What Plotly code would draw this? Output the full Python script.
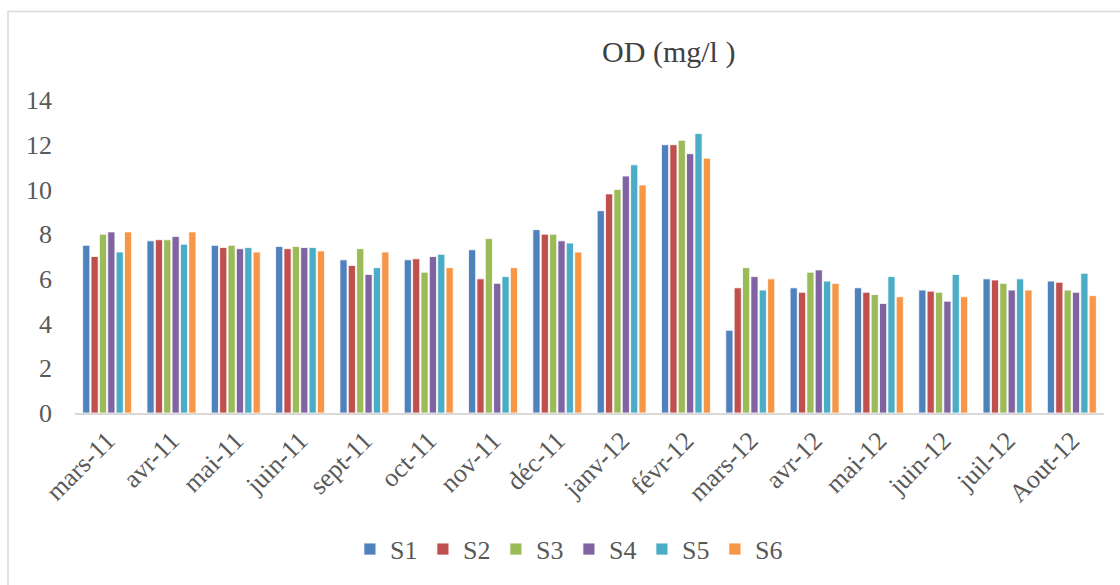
import plotly.graph_objects as go

# Monthly sampling campaigns
months = ["mars-11", "avr-11", "mai-11", "juin-11", "sept-11", "oct-11", "nov-11",
          "déc-11", "janv-12", "févr-12", "mars-12", "avr-12", "mai-12", "juin-12",
          "juil-12", "Aout-12"]

# Dissolved oxygen (mg/l) per station
s1 = [7.5, 7.7, 7.5, 7.45, 6.85, 6.85, 7.3, 8.2, 9.05, 12.0, 3.7, 5.6, 5.6, 5.5, 6.0, 5.9]
s2 = [7.0, 7.75, 7.4, 7.35, 6.6, 6.9, 6.0, 8.0, 9.8, 12.0, 5.6, 5.4, 5.4, 5.45, 5.95, 5.85]
s3 = [8.0, 7.75, 7.5, 7.45, 7.35, 6.3, 7.8, 8.0, 10.0, 12.2, 6.5, 6.3, 5.3, 5.4, 5.8, 5.5]
s4 = [8.1, 7.9, 7.35, 7.4, 6.2, 7.0, 5.8, 7.7, 10.6, 11.6, 6.1, 6.4, 4.9, 5.0, 5.5, 5.4]
s5 = [7.2, 7.55, 7.4, 7.4, 6.5, 7.1, 6.1, 7.6, 11.1, 12.5, 5.5, 5.9, 6.1, 6.2, 6.0, 6.25]
s6 = [8.1, 8.1, 7.2, 7.25, 7.2, 6.5, 6.5, 7.2, 10.2, 11.4, 6.0, 5.8, 5.2, 5.2, 5.5, 5.25]

series = [("S1", s1, "#4F81BD"), ("S2", s2, "#C0504D"), ("S3", s3, "#9BBB59"),
          ("S4", s4, "#8064A2"), ("S5", s5, "#4BACC6"), ("S6", s6, "#F79646")]

FONT = "Liberation Serif, Times New Roman, serif"
GREY = "#595959"

fig = go.Figure()
for name, vals, color in series:
    fig.add_trace(go.Bar(
        x=months, y=vals, name=name,
        marker=dict(color=color, line=dict(color="rgba(255,255,255,0.8)", width=1)),
    ))

fig.update_layout(
    width=1120, height=585,
    margin=dict(l=75, r=16, t=100, b=170),
    paper_bgcolor="white", plot_bgcolor="white",
    barmode="group", bargap=0.22, bargroupgap=0.14,
    font=dict(family=FONT, color=GREY),
    title=dict(text="OD (mg/l )", font=dict(family=FONT, size=30, color="#404040"),
               xref="paper", x=0.577, xanchor="center",
               yref="container", y=1 - 51 / 585, yanchor="middle"),
    xaxis=dict(tickangle=-45, tickfont=dict(size=26, color=GREY),
               showline=True, linecolor="#d9d9d9", linewidth=2,
               showgrid=False, ticks="", zeroline=False),
    yaxis=dict(range=[0, 14], dtick=2, tickfont=dict(size=26, color=GREY),
               showgrid=False, showline=False, zeroline=False, ticks="",
               ticklabelstandoff=22),
    legend=dict(orientation="h", xref="paper", x=0.48, xanchor="center",
                yref="paper", y=-0.435, yanchor="middle",
                font=dict(size=26, color=GREY), itemwidth=30,
                entrywidth=28, entrywidthmode="pixels",
                tracegroupgap=0),
    showlegend=True,
    shapes=[dict(type="rect", xref="paper", yref="paper",
                 x0=(8 - 75) / 1029, x1=1.2, y0=-1.0, y1=(415 - 11) / 315,
                 line=dict(color="#d9d9d9", width=1.5), layer="below")],
)

fig.write_html("out.html")
